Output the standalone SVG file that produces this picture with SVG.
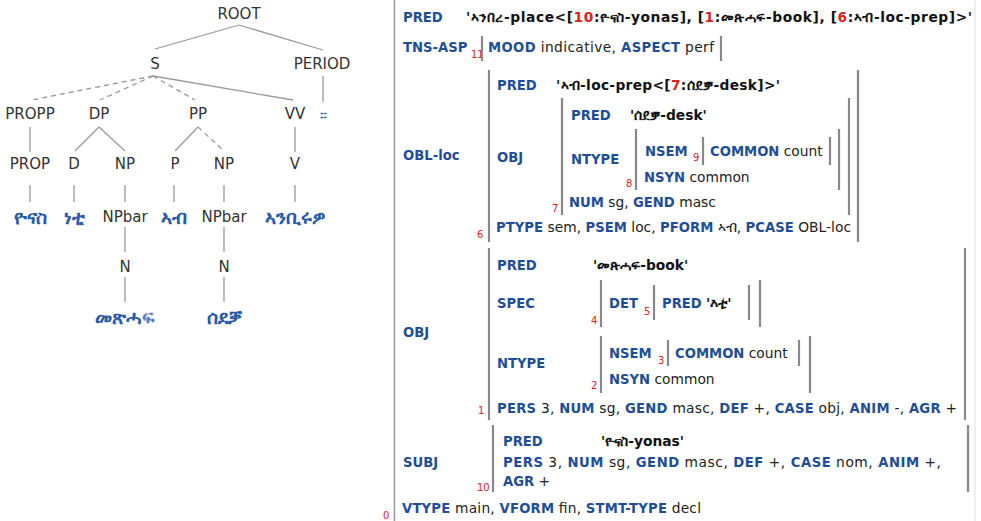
<svg xmlns="http://www.w3.org/2000/svg" width="981" height="521" viewBox="0 0 981 521">
<style>
.t{font-family:"DejaVu Sans",Verdana,sans-serif;font-size:15px;fill:#333;text-anchor:middle}
.w{font-family:"DejaVu Sans",sans-serif;font-size:19px;fill:#2a5aa8;font-weight:bold;text-anchor:middle}
.e{stroke:#999;stroke-width:1.3;fill:none}
.d{stroke-dasharray:5 4}
.f{font-family:"DejaVu Sans",Verdana,sans-serif;font-size:13.8px;fill:#222}
.k{fill:#1f4e96;font-weight:bold;font-size:13.2px}
.v{font-weight:bold;fill:#111}
.n{font-family:"DejaVu Sans",sans-serif;font-size:10px;fill:#d22}
.b{stroke:#888;stroke-width:2.2}
</style>
<rect width="981" height="521" fill="#fff"/>
<g id="connectors">
<line class="e" x1="239" y1="25" x2="155" y2="49"/>
<line class="e" x1="239" y1="25" x2="323" y2="50"/>
<line class="e d" x1="153" y1="76" x2="32" y2="100"/>
<line class="e d" x1="153" y1="76" x2="100" y2="100"/>
<line class="e d" x1="153" y1="76" x2="195" y2="100"/>
<line class="e" x1="153" y1="76" x2="293" y2="100"/>
<line class="e" x1="323" y1="76" x2="323" y2="102"/>
<line class="e" x1="30" y1="127" x2="30" y2="152"/>
<line class="e" x1="99" y1="127" x2="75" y2="151"/>
<line class="e" x1="99" y1="127" x2="125" y2="151"/>
<line class="e" x1="198" y1="127" x2="175" y2="151"/>
<line class="e d" x1="198" y1="127" x2="224" y2="151"/>
<line class="e" x1="295" y1="127" x2="295" y2="152"/>
<line class="e" x1="30" y1="185" x2="30" y2="202"/>
<line class="e" x1="74" y1="185" x2="74" y2="202"/>
<line class="e" x1="125" y1="185" x2="125" y2="202"/>
<line class="e" x1="174" y1="185" x2="174" y2="202"/>
<line class="e" x1="224" y1="185" x2="224" y2="202"/>
<line class="e" x1="295" y1="185" x2="295" y2="202"/>
<line class="e" x1="125" y1="227" x2="125" y2="252"/>
<line class="e" x1="224" y1="227" x2="224" y2="252"/>
<line class="e" x1="125" y1="277" x2="125" y2="302"/>
<line class="e" x1="224" y1="277" x2="224" y2="302"/>
</g>
<g id="n-root"><text class="t" x="239" y="19">ROOT</text></g>
<g id="n-s"><text class="t" x="155" y="69">S</text></g>
<g id="n-period"><text class="t" x="322" y="69">PERIOD</text></g>
<g id="n-propp"><text class="t" x="30" y="119">PROPP</text></g>
<g id="n-dp"><text class="t" x="99" y="119">DP</text></g>
<g id="n-pp"><text class="t" x="198" y="119">PP</text></g>
<g id="n-vv"><text class="t" x="295" y="119">VV</text></g>
<g id="n-punct"><text class="w" x="323" y="120" style="font-size:15px">።</text></g>
<g id="n-prop"><text class="t" x="30" y="169">PROP</text></g>
<g id="n-d"><text class="t" x="74" y="169">D</text></g>
<g id="n-np1"><text class="t" x="125" y="169">NP</text></g>
<g id="n-p"><text class="t" x="175" y="169">P</text></g>
<g id="n-np2"><text class="t" x="224" y="169">NP</text></g>
<g id="n-v"><text class="t" x="295" y="169">V</text></g>
<g id="n-yonas"><text class="w" x="30" y="224">ዮናስ</text></g>
<g id="n-neti"><text class="w" x="74" y="224">ነቲ</text></g>
<g id="n-npbar1"><text class="t" x="125" y="222">NPbar</text></g>
<g id="n-ab"><text class="w" x="174" y="224">ኣብ</text></g>
<g id="n-npbar2"><text class="t" x="224" y="222">NPbar</text></g>
<g id="n-verb"><text class="w" x="295" y="224">ኣንቢሩዎ</text></g>
<g id="n-n1"><text class="t" x="125" y="272">N</text></g>
<g id="n-n2"><text class="t" x="224" y="272">N</text></g>
<g id="n-book"><text class="w" x="125" y="324">መጽሓፍ</text></g>
<g id="n-desk"><text class="w" x="224" y="324">ሰደቓ</text></g>

<g id="fstructure">
<line x1="394.5" y1="0" x2="394.5" y2="521" stroke="#999" stroke-width="1.5"/>
<line x1="975" y1="0" x2="975" y2="521" stroke="#ddd" stroke-width="1"/>
<text class="f" x="403" y="22"><tspan class="k">PRED</tspan></text>
<text class="f v" x="466" y="22" textLength="506">'ኣንበረ-place&lt;[<tspan fill="#d22">10</tspan>:ዮናስ-yonas], [<tspan fill="#d22">1</tspan>:መጽሓፍ-book], [<tspan fill="#d22">6</tspan>:ኣብ-loc-prep]&gt;'</text>
<text class="f" x="403" y="52"><tspan class="k">TNS-ASP</tspan></text>
<text class="n" x="471" y="58">11</text>
<line class="b" x1="482" y1="36" x2="482" y2="61"/>
<text class="f" x="488" y="52" textLength="226"><tspan class="k">MOOD</tspan> indicative, <tspan class="k">ASPECT</tspan> perf</text>
<line class="b" x1="721" y1="36" x2="721" y2="61"/>

<text class="f" x="403" y="160"><tspan class="k">OBL-loc</tspan></text>
<line class="b" x1="489" y1="70" x2="489" y2="242"/>
<text class="n" x="477" y="238">6</text>
<line class="b" x1="858" y1="70" x2="858" y2="242"/>
<text class="f" x="497" y="90"><tspan class="k">PRED</tspan></text>
<text class="f v" x="556" y="90" textLength="224">'ኣብ-loc-prep&lt;[<tspan fill="#d22">7</tspan>:ሰደቓ-desk]&gt;'</text>
<text class="f" x="497" y="162"><tspan class="k">OBJ</tspan></text>
<line class="b" x1="562" y1="98" x2="562" y2="215"/>
<text class="n" x="552" y="212">7</text>
<line class="b" x1="849" y1="98" x2="849" y2="215"/>
<text class="f" x="571" y="120"><tspan class="k">PRED</tspan></text>
<text class="f v" x="630" y="120">'ሰደቓ-desk'</text>
<text class="f" x="571" y="164"><tspan class="k">NTYPE</tspan></text>
<line class="b" x1="636" y1="129" x2="636" y2="190"/>
<text class="n" x="626" y="187">8</text>
<line class="b" x1="839" y1="129" x2="839" y2="190"/>
<text class="f" x="645" y="156"><tspan class="k">NSEM</tspan></text>
<text class="n" x="693" y="161">9</text>
<line class="b" x1="703" y1="137" x2="703" y2="165"/>
<text class="f" x="710" y="156"><tspan class="k">COMMON</tspan> count</text>
<line class="b" x1="830" y1="137" x2="830" y2="165"/>
<text class="f" x="644" y="182"><tspan class="k">NSYN</tspan> common</text>
<text class="f" x="569" y="207"><tspan class="k">NUM</tspan> sg, <tspan class="k">GEND</tspan> masc</text>
<text class="f" x="496" y="232" textLength="355"><tspan class="k">PTYPE</tspan> sem, <tspan class="k">PSEM</tspan> loc, <tspan class="k">PFORM</tspan> ኣብ, <tspan class="k">PCASE</tspan> OBL-loc</text>

<text class="f" x="403" y="337"><tspan class="k">OBJ</tspan></text>
<line class="b" x1="489" y1="248" x2="489" y2="420"/>
<text class="n" x="478" y="414">1</text>
<line class="b" x1="965" y1="248" x2="965" y2="420"/>
<text class="f" x="497" y="270"><tspan class="k">PRED</tspan></text>
<text class="f v" x="593" y="270">'መጽሓፍ-book'</text>
<text class="f" x="497" y="308"><tspan class="k">SPEC</tspan></text>
<line class="b" x1="601" y1="280" x2="601" y2="327"/>
<text class="n" x="591" y="324">4</text>
<text class="f" x="609" y="308"><tspan class="k">DET</tspan></text>
<text class="n" x="644" y="315">5</text>
<line class="b" x1="654" y1="285" x2="654" y2="320"/>
<text class="f" x="662" y="308"><tspan class="k">PRED</tspan></text>
<text class="f v" x="706" y="308">'እቲ'</text>
<line class="b" x1="749" y1="285" x2="749" y2="320"/>
<line class="b" x1="760" y1="280" x2="760" y2="327"/>
<text class="f" x="497" y="368"><tspan class="k">NTYPE</tspan></text>
<line class="b" x1="601" y1="336" x2="601" y2="393"/>
<text class="n" x="591" y="389">2</text>
<text class="f" x="609" y="358"><tspan class="k">NSEM</tspan></text>
<text class="n" x="658" y="364">3</text>
<line class="b" x1="668" y1="340" x2="668" y2="366"/>
<text class="f" x="675" y="358"><tspan class="k">COMMON</tspan> count</text>
<line class="b" x1="799" y1="340" x2="799" y2="366"/>
<text class="f" x="609" y="384"><tspan class="k">NSYN</tspan> common</text>
<line class="b" x1="810" y1="336" x2="810" y2="393"/>
<text class="f" x="497" y="413" textLength="460"><tspan class="k">PERS</tspan> 3, <tspan class="k">NUM</tspan> sg, <tspan class="k">GEND</tspan> masc, <tspan class="k">DEF</tspan> +, <tspan class="k">CASE</tspan> obj, <tspan class="k">ANIM</tspan> -, <tspan class="k">AGR</tspan> +</text>

<text class="f" x="403" y="467"><tspan class="k">SUBJ</tspan></text>
<line class="b" x1="493" y1="425" x2="493" y2="492"/>
<text class="n" x="477" y="491">10</text>
<line class="b" x1="968" y1="425" x2="968" y2="492"/>
<text class="f" x="503" y="446"><tspan class="k">PRED</tspan></text>
<text class="f v" x="601" y="446">'ዮናስ-yonas'</text>
<text class="f" x="503" y="467" textLength="438"><tspan class="k">PERS</tspan> 3, <tspan class="k">NUM</tspan> sg, <tspan class="k">GEND</tspan> masc, <tspan class="k">DEF</tspan> +, <tspan class="k">CASE</tspan> nom, <tspan class="k">ANIM</tspan> +,</text>
<text class="f" x="503" y="486"><tspan class="k">AGR</tspan> +</text>

<text class="f" x="402" y="513" textLength="299"><tspan class="k">VTYPE</tspan> main, <tspan class="k">VFORM</tspan> fin, <tspan class="k">STMT-TYPE</tspan> decl</text>
<text class="n" x="383" y="519">0</text>
</g>
</svg>
